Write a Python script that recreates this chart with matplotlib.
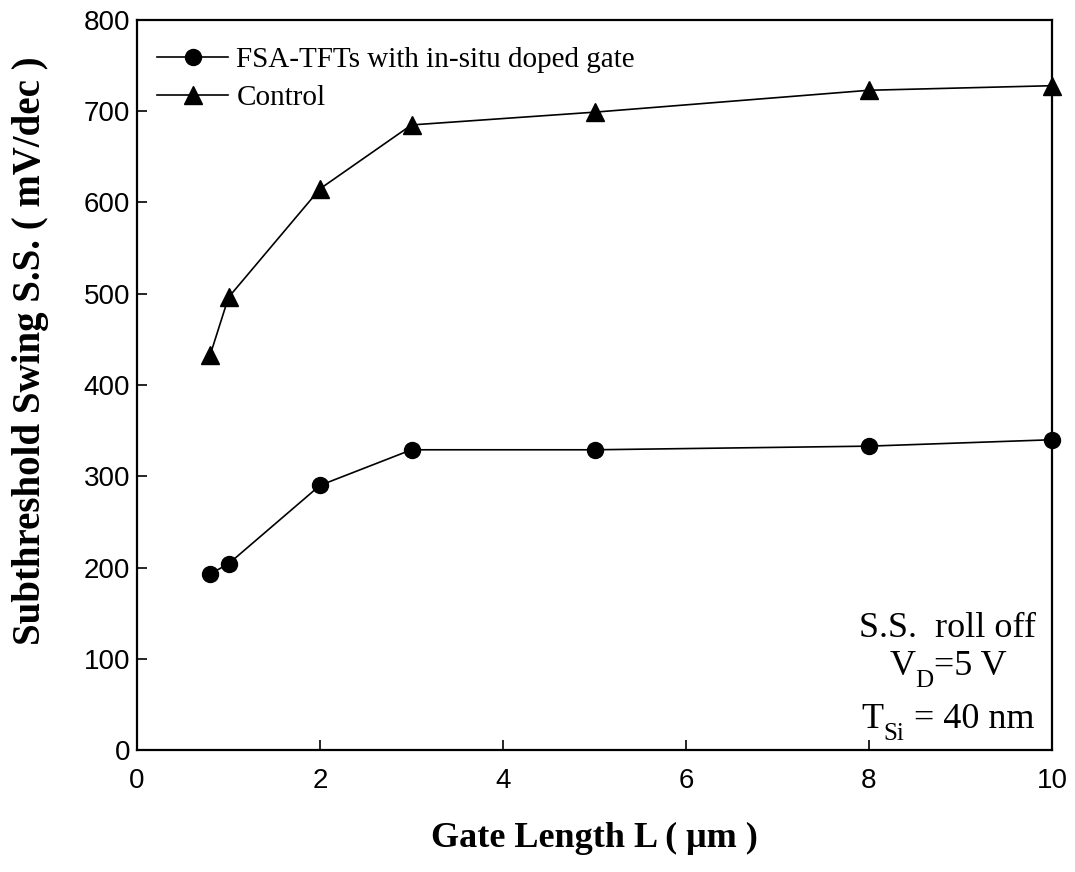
import matplotlib
matplotlib.use("Agg")
import matplotlib.pyplot as plt

gate_length = [0.8, 1, 2, 3, 5, 8, 10]
fsa_ss = [193, 204, 290, 329, 329, 333, 340]
control_ss = [433, 496, 615, 685, 699, 723, 728]
x_ticks = [0, 2, 4, 6, 8, 10]
y_ticks = [0, 100, 200, 300, 400, 500, 600, 700, 800]

W, H = 1075, 872
fig = plt.figure(figsize=(W / 100, H / 100), dpi=100)
ax = fig.add_axes([137 / W, 1 - 750 / H, (1052 - 137) / W, (750 - 20) / H])

ax.plot(gate_length, fsa_ss, color='black', lw=1.2, marker='o', ms=11.5,
        label='FSA-TFTs with in-situ doped gate', clip_on=False)
ax.plot(gate_length, control_ss, color='black', lw=1.2, marker='^', ms=12.5,
        label='Control', clip_on=False)

ax.set_xlim(0, 10)
ax.set_ylim(0, 800)
ax.set_xticks(x_ticks)
ax.set_yticks(y_ticks)
ax.tick_params(direction='in', length=7, width=1.2, top=False, right=False,
               labelsize=20)
ax.tick_params(axis='x', pad=13)
ax.tick_params(axis='y', pad=5)
for lab in ax.get_xticklabels() + ax.get_yticklabels():
    lab.set_fontfamily('Liberation Sans')
for s in ax.spines.values():
    s.set_linewidth(1.6)

fig.text(594.5 / W, 1 - 838 / H, 'Gate Length L ( μm )', fontfamily='Liberation Serif',
         fontweight='bold', fontsize=26, ha='center', va='center')
fig.text(31 / W, 1 - 351 / H, 'Subthreshold Swing S.S. ( mV/dec )',
         fontfamily='Liberation Serif', fontweight='bold', fontsize=28,
         ha='center', va='center', rotation=90)

leg = ax.legend(loc='upper left', frameon=False,
                prop={'family': 'Liberation Serif', 'size': 21},
                handlelength=2.45, handletextpad=0.27, borderaxespad=0,
                borderpad=0, labelspacing=0.38,
                bbox_to_anchor=(20 / 915, 1 - 27 / 730))

ann_x = 948
renderer = fig.canvas.get_renderer()


def rich_line(ypix, parts):
    """parts: list of (text, is_subscript); placed left to right, centred at ann_x."""
    objs = []
    widths = []
    for s, sub in parts:
        t = fig.text(0, 0, s, ha='left', va='baseline',
                     fontfamily='Liberation Serif', fontsize=18 if sub else 26)
        objs.append((t, sub))
        widths.append(t.get_window_extent(renderer).width)
    total = sum(widths)
    x = ann_x - total / 2
    for (t, sub), w in zip(objs, widths):
        yb = ypix + (12 if sub else 0)
        t.set_position((x / W, 1 - yb / H))
        x += w


rich_line(637, [('S.S.  roll off', False)])
rich_line(675, [('V', False), ('D', True), ('=5 V', False)])
rich_line(728, [('T', False), ('Si', True), (' = 40 nm', False)])

fig.savefig('out.png', dpi=100)
